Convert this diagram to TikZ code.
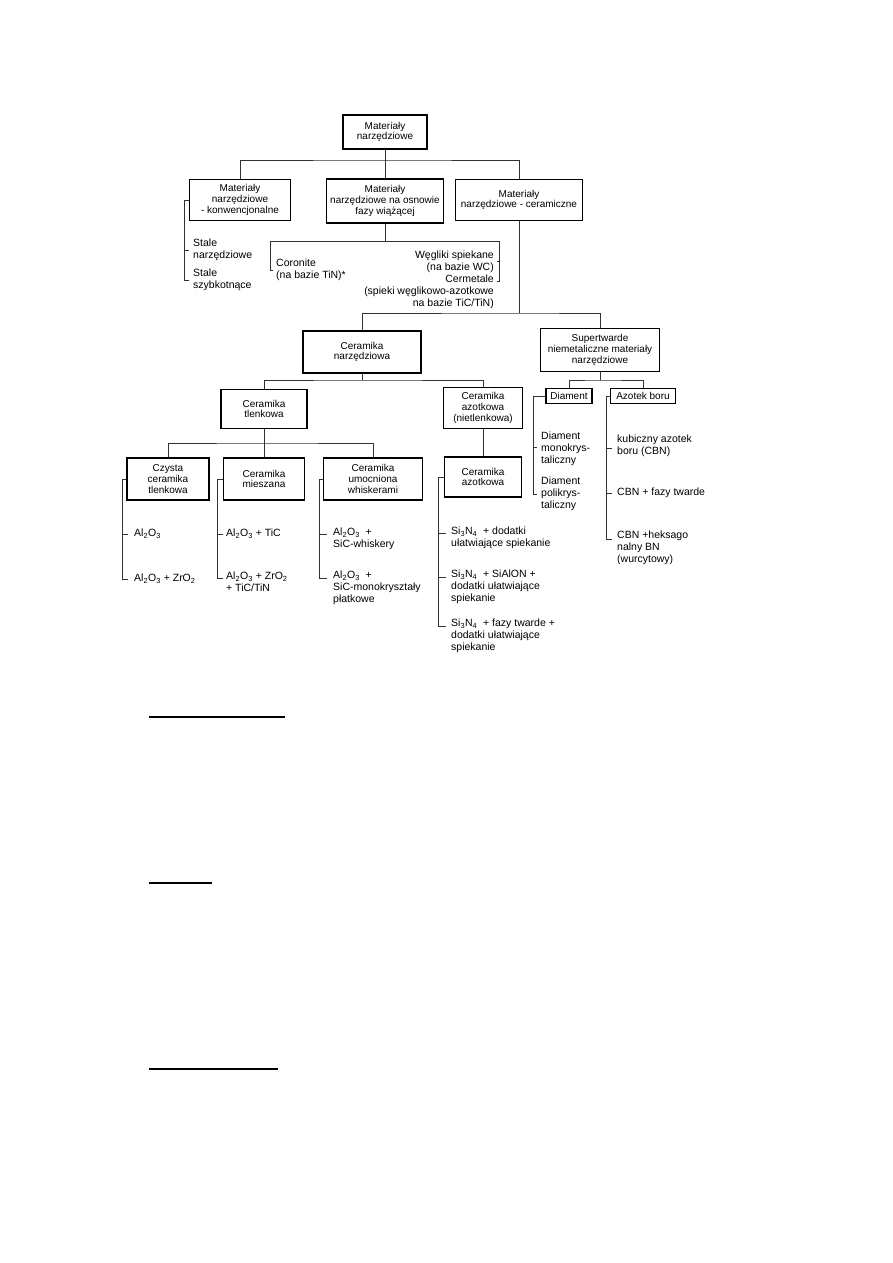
\documentclass[tikz,border=0pt]{standalone}
\usepackage{fontspec}
\setmainfont{Liberation Sans}
\newcommand{\boxfont}{\fontsize{10}{10.8}\selectfont}
\newcommand{\leaffont}{\fontsize{10.5}{11.8}\selectfont}
\tikzset{
  box/.style={draw, line width=1.5pt, align=center, inner sep=1pt, font=\boxfont},
  link/.style={line width=0.7pt, black!80},
  leaf/.style={align=left, anchor=west, inner sep=0pt, font=\leaffont},
}

\begin{document}
\begin{tikzpicture}[x=1pt, y=-1pt]
  \useasboundingbox (0,0) rectangle (893,1263);

  % boxes
  \node[box, minimum width=84pt, minimum height=34pt] (top) at (385,132) {Materiały\\narzędziowe};
  \node[box, minimum width=101pt, minimum height=41pt] (konw) at (240,200) {Materiały\\narzędziowe\\- konwencjonalne};
  \node[box, minimum width=117pt, minimum height=44pt] (osn) at (385,201) {Materiały\\narzędziowe na osnowie\\fazy wiążącej};
  \node[box, minimum width=127pt, minimum height=41pt] (ceram) at (519,200) {Materiały\\narzędziowe - ceramiczne};
  \node[box, minimum width=118pt, minimum height=42pt] (cernarz) at (362,352) {Ceramika\\narzędziowa};
  \node[box, minimum width=119pt, minimum height=43pt] (super) at (600,350) {Supertwarde\\niemetaliczne materiały\\narzędziowe};
  \node[box, minimum width=86pt, minimum height=39pt] (tlen) at (264,409) {Ceramika\\tlenkowa};
  \node[box, minimum width=79pt, minimum height=41pt] (azotn) at (483,408) {Ceramika\\azotkowa\\(nietlenkowa)};
  \node[box, minimum width=46pt, minimum height=15pt] (diam) at (569,396) {Diament};
  \node[box, minimum width=65pt, minimum height=15pt] (azbor) at (643,396) {Azotek boru};
  \node[box, minimum width=82pt, minimum height=42pt] (czysta) at (168,479) {Czysta\\ceramika\\tlenkowa};
  \node[box, minimum width=81pt, minimum height=42pt] (miesz) at (264,479) {Ceramika\\mieszana};
  \node[box, minimum width=99pt, minimum height=42pt] (umoc) at (373,479) {Ceramika\\umocniona\\whiskerami};
  \node[box, minimum width=77pt, minimum height=40pt] (azot) at (483,477) {Ceramika\\azotkowa};

  % leaves
  \node[leaf] (st1) at (193,250) {Stale\\narzędziowe};
  \node[leaf] (st2) at (193,280) {Stale\\szybkotnące};
  \node[leaf] (cor) at (276,270) {Coronite\\(na bazie TiN)*};
  \node[leaf, anchor=east, align=right] (wegl) at (494,262) {Węgliki spiekane\\(na bazie WC)};
  \node[leaf, anchor=north east, align=right] (cerm) at (494,275) {Cermetale\\(spieki węglikowo-azotkowe\\na bazie TiC/TiN)};
  \node[leaf] (dmono) at (541,449) {Diament\\monokrys-\\taliczny};
  \node[leaf] (dpol) at (541,494) {Diament\\polikrys-\\taliczny};
  \node[leaf] (kub) at (617,446) {kubiczny azotek\\boru (CBN)};
  \node[leaf] (cbnf) at (617,493) {CBN + fazy twarde};
  \node[leaf, anchor=north west] (cbnh) at (617,531) {CBN +heksago\\nalny BN\\(wurcytowy)};
  \node[leaf] (a1) at (134,534) {Al\textsubscript{2}O\textsubscript{3}};
  \node[leaf] (a2) at (134,579) {Al\textsubscript{2}O\textsubscript{3} + ZrO\textsubscript{2}};
  \node[leaf] (m1) at (226,534) {Al\textsubscript{2}O\textsubscript{3} + TiC};
  \node[leaf, anchor=north west] (m2) at (226,572) {Al\textsubscript{2}O\textsubscript{3} + ZrO\textsubscript{2}\\+ TiC/TiN};
  \node[leaf, anchor=north west] (u1) at (333,528) {Al\textsubscript{2}O\textsubscript{3}\ \ +\\SiC-whiskery};
  \node[leaf, anchor=north west] (u2) at (333,571) {Al\textsubscript{2}O\textsubscript{3}\ \ +\\SiC-monokryształy\\płatkowe};
  \node[leaf, anchor=north west] (s1) at (451,527) {Si\textsubscript{3}N\textsubscript{4}\ \ + dodatki\\ułatwiające spiekanie};
  \node[leaf, anchor=north west] (s2) at (451,570) {Si\textsubscript{3}N\textsubscript{4}\ \ + SiAlON +\\dodatki ułatwiające\\spiekanie};
  \node[leaf, anchor=north west] (s3) at (451,619) {Si\textsubscript{3}N\textsubscript{4}\ \ + fazy twarde +\\dodatki ułatwiające\\spiekanie};

  % tree
  \coordinate (j1) at (385,160);
  \draw[link] (top.south) -- (osn.north);
  \draw[link] (konw.north) |- (j1) -| (ceram.north);

  \coordinate (j2l) at (270,241);
  \coordinate (j2r) at (499,241);
  \coordinate (bwe) at (499,261);
  \coordinate (bce) at (499,281);
  \draw[link] (osn.south) -- (osn.south |- j2l);
  \draw[link, shorten <=3pt, shorten >=3pt] (cor.west) -| (j2l) -- (j2r) -- (bce) -- (bce -| cerm.east);
  \draw[link, shorten >=3pt] (bwe) -- (bwe -| wegl.east);

  \coordinate (j3) at (519,313);
  \draw[link] (ceram.south) -- (j3);
  \draw[link] (cernarz.north) |- (j3) -| (super.north);

  \coordinate (j4) at (362,380);
  \draw[link] (cernarz.south) -- (j4);
  \draw[link] (tlen.north) |- (j4) -| (azotn.north);

  \coordinate (j5) at (600,380);
  \draw[link] (super.south) -- (j5);
  \draw[link] (diam.north) |- (j5) -| (azbor.north);

  \coordinate (j6) at (264,443);
  \draw[link] (tlen.south) -- (miesz.north);
  \draw[link] (czysta.north) |- (j6) -| (umoc.north);

  \draw[link] (azotn.south) -- (azot.north);

  % brackets
  \coordinate (bst1) at (184,250);
  \coordinate (bst2) at (184,280);
  \draw[link, shorten >=4pt] (konw.west) -| (bst2) -- (bst2 -| st2.west);
  \draw[link, shorten >=4pt] (bst1) -- (bst1 -| st1.west);

  \coordinate (bcz1) at (122,534);
  \coordinate (bcz2) at (122,579);
  \draw[link, shorten >=6pt] (czysta.west) -| (bcz2) -- (bcz2 -| a2.west);
  \draw[link, shorten >=6pt] (bcz1) -- (bcz1 -| a1.west);

  \coordinate (bmi1) at (217,534);
  \coordinate (bmi2) at (217,578);
  \draw[link, shorten >=3pt] (miesz.west) -| (bmi2) -- (bmi2 -| m2.west);
  \draw[link, shorten >=3pt] (bmi1) -- (bmi1 -| m1.west);

  \coordinate (bum1) at (319,534);
  \coordinate (bum2) at (319,578);
  \draw[link, shorten >=6pt] (umoc.west) -| (bum2) -- (bum2 -| u2.west);
  \draw[link, shorten >=6pt] (bum1) -- (bum1 -| u1.west);

  \coordinate (baz1) at (438,533);
  \coordinate (baz2) at (438,577);
  \coordinate (baz3) at (438,626);
  \draw[link, shorten >=5pt] (azot.west) -| (baz3) -- (baz3 -| s3.west);
  \draw[link, shorten >=5pt] (baz1) -- (baz1 -| s1.west);
  \draw[link, shorten >=5pt] (baz2) -- (baz2 -| s2.west);

  \coordinate (bdi1) at (533,447);
  \coordinate (bdi2) at (533,494);
  \draw[link, shorten >=4pt] (diam.west) -| (bdi2) -- (bdi2 -| dpol.west);
  \draw[link, shorten >=4pt] (bdi1) -- (bdi1 -| dmono.west);

  \coordinate (bab1) at (606,448);
  \coordinate (bab2) at (606,493);
  \coordinate (bab3) at (606,539);
  \draw[link, shorten >=5pt] (azbor.west) -| (bab3) -- (bab3 -| cbnh.west);
  \draw[link, shorten >=5pt] (bab1) -- (bab1 -| kub.west);
  \draw[link, shorten >=5pt] (bab2) -- (bab2 -| cbnf.west);

  % blank underlines below
  \draw[line width=1.2pt] (149,717) -- (285,717);
  \draw[line width=1.2pt] (149,883) -- (212,883);
  \draw[line width=1.2pt] (149,1069) -- (278,1069);
\end{tikzpicture}
\end{document}
